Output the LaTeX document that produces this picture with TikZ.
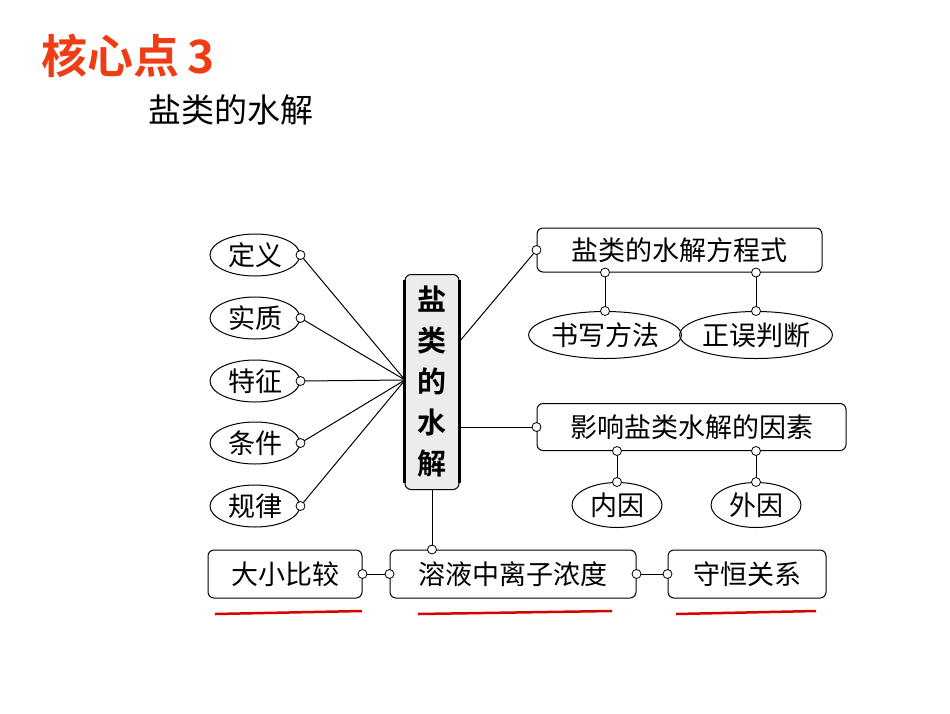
\documentclass[tikz,border=0pt]{standalone}
\usepackage{fontspec}
\usetikzlibrary{shapes.geometric}
\newfontfamily\cjk{Noto Sans CJK SC}
\newfontfamily\cjkb{Noto Sans CJK SC Bold}
\definecolor{ttl}{RGB}{240,60,20}
\begin{document}
\begin{tikzpicture}[x=1pt,y=-1pt,
  el/.style={draw,ellipse,line width=1pt,inner sep=0pt,font=\cjk\fontsize{27}{27}\selectfont},
  rb/.style={draw,rounded corners=6pt,line width=1pt,inner sep=0pt,font=\cjk\fontsize{27}{27}\selectfont},
  dot/.style={circle,draw,fill=white,inner sep=0pt,minimum size=9pt,line width=0.8pt},
  ln/.style={line width=1pt},
  ul/.style={red!85!black,line width=2.5pt}]
\useasboundingbox (0,0) rectangle (950,713);
\node[anchor=west,text=ttl,font=\cjkb\fontsize{46}{46}\selectfont] (t) at (38,56) {核心点\,3};
\node[anchor=west,font=\cjk\fontsize{33}{33}\selectfont] (st) at (145,110) {盐类的水解};
% center
\node[draw,rounded corners=6pt,line width=1pt,fill=gray!15,minimum width=54pt,minimum height=215pt,inner sep=0pt,
  align=center,font=\cjkb\fontsize{29}{41}\selectfont] (c) at (432,382) {盐\\类\\的\\水\\解};
\draw[line width=2.5pt] (c.north west)++(0,6) -- ++(0,203);
\draw[line width=2.5pt] (c.north east)++(0,6) -- ++(0,203);
\coordinate (cp) at (405,380);
% ellipses left
\foreach \n/\t/\y in {a/定义/255,b/实质/318,cc/特征/381,d/条件/443,e/规律/506}{
  \node[el,minimum width=90pt,minimum height=42pt] (\n) at (255,\y) {\t};
  \draw[ln] (\n.east) -- (cp);
  \node[dot] at (\n.east) {};
}
% top right
\node[rb,minimum width=285pt,minimum height=44pt] (r1) at (679.5,250) {盐类的水解方程式};
\coordinate (c1) at (459,342);
\draw[ln] (c1) -- (r1.west); \node[dot] at (r1.west) {};
\node[el,minimum width=150pt,minimum height=47pt] (s1) at (605,335) {书写方法};
\node[el,minimum width=150pt,minimum height=47pt] (s2) at (756,335) {正误判断};
\foreach \s in {s1,s2}{
  \draw[ln] (r1.south -| \s) -- (\s.north);
  \node[dot] at (r1.south -| \s) {}; \node[dot] at (\s.north) {};
}
\node[rb,minimum width=309pt,minimum height=47pt] (r2) at (691.5,427) {影响盐类水解的因素};
\draw[ln] (c.east |- r2) -- (r2.west); \node[dot] at (r2.west) {};
\node[el,minimum width=90pt,minimum height=45pt] (n1) at (617,505) {内因};
\node[el,minimum width=90pt,minimum height=45pt] (n2) at (756,505) {外因};
\foreach \s in {n1,n2}{
  \draw[ln] (r2.south -| \s) -- (\s.north);
  \node[dot] at (r2.south -| \s) {}; \node[dot] at (\s.north) {};
}
% bottom
\node[rb,minimum width=154pt,minimum height=48pt] (b1) at (285,574) {大小比较};
\node[rb,minimum width=246pt,minimum height=48pt] (b2) at (513,574) {溶液中离子浓度};
\node[rb,minimum width=158pt,minimum height=48pt] (b3) at (747,574) {守恒关系};
\draw[ln] (c.south) -- (c.south |- b2.north); \node[dot] at (c.south |- b2.north) {};
\draw[ln] (b1.east) -- (b2.west); \node[dot] at (b1.east) {}; \node[dot] at (b2.west) {};
\draw[ln] (b2.east) -- (b3.west); \node[dot] at (b2.east) {}; \node[dot] at (b3.west) {};
\draw[ul] (215,614) -- (362,611);
\draw[ul] (418,614) -- (612,611);
\draw[ul] (676,614) -- (816,611);
\end{tikzpicture}
\end{document}
